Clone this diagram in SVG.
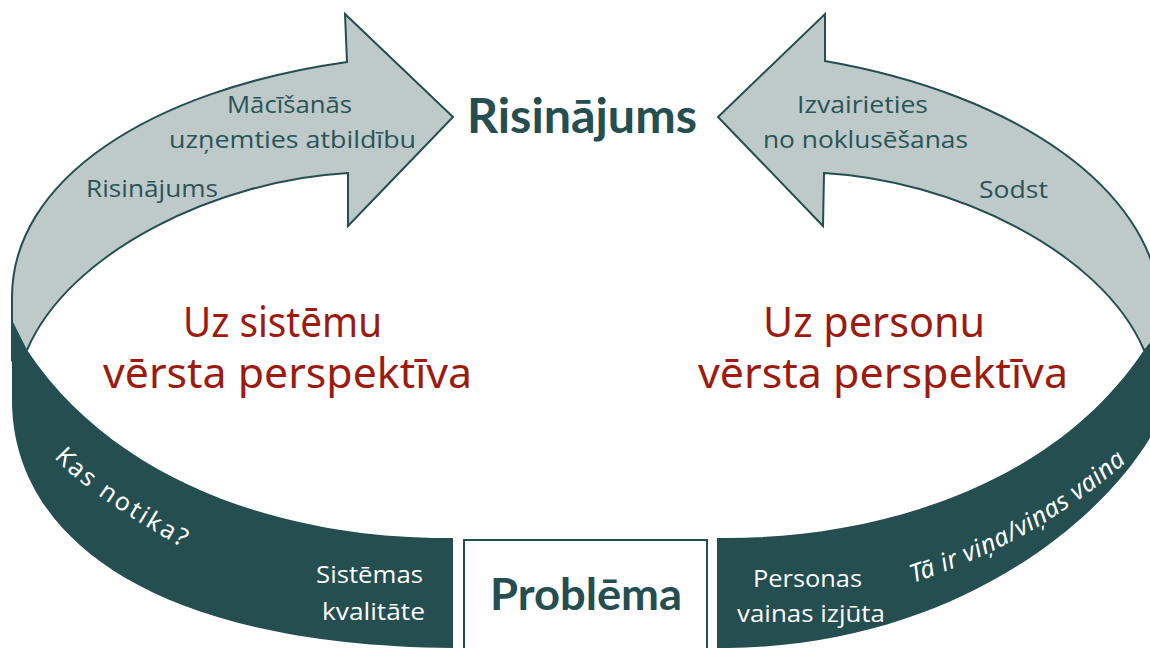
<svg xmlns="http://www.w3.org/2000/svg" width="1150" height="648" viewBox="0 0 1150 648">
<style>
.band{fill:#244e4f}
.arrow{fill:#bec9ca;stroke:#244e4f;stroke-width:2;stroke-linejoin:miter}
.box{fill:#ffffff;stroke:#244e4f;stroke-width:2}
.lbl{font-family:"Open Sans","Noto Sans",sans-serif;font-size:24px;fill:#2a5455}
.wlbl{font-family:"Open Sans","Noto Sans",sans-serif;font-size:24px;fill:#ffffff}
.red{font-family:"Noto Sans","Open Sans",sans-serif;font-size:41px;fill:#9c1a0e}
.title{font-family:Lato,"Open Sans",sans-serif;font-weight:bold;fill:#244e4f}
.curv{font-family:"Noto Sans","Open Sans",sans-serif;font-size:25px;fill:#ffffff}
</style>
<defs>
<path id="pLeft" d="M54,457 C78,486 140,525 205,560"/>
<path id="pRight" d="M913,583 C980,560 1060,526 1146,444"/>
</defs>
<rect width="1150" height="648" fill="#ffffff"/>
<g id="connectors">
<g id="arrow-left">
<path class="arrow" d="M347,62 L345,14 L453,117 L348,226 L348,173 C220,180 70,250 27,350 L12,360 L12,300 C10,180 150,90 347,62 Z"/>
<text class="lbl" x="227" y="113" textLength="125" lengthAdjust="spacingAndGlyphs">Mācīšanās</text>
<text class="lbl" x="169" y="148" textLength="247" lengthAdjust="spacingAndGlyphs">uzņemties atbildību</text>
<text class="lbl" x="86" y="197" textLength="132" lengthAdjust="spacingAndGlyphs">Risinājums</text>
</g>
<g id="arrow-right">
<path class="arrow" d="M825,61 L825,14 L718,117 L823,226 L824,173 C951,180 1101,250 1144,350 L1160,345 L1160,300 C1150,190 1020,95 825,61 Z"/>
<text class="lbl" x="797" y="113" textLength="131" lengthAdjust="spacingAndGlyphs">Izvairieties</text>
<text class="lbl" x="763" y="148" textLength="205" lengthAdjust="spacingAndGlyphs">no noklusēšanas</text>
<text class="lbl" x="979" y="198" textLength="69" lengthAdjust="spacingAndGlyphs">Sodst</text>
</g>
</g>
<g id="band-left">
<path class="band" d="M12,320 L12,400 C12,530 140,645 453,648 L453,538 C300,540 120,490 27,350 Z"/>
<text class="curv" letter-spacing="2.5"><textPath href="#pLeft">Kas notika?</textPath></text>
<text class="wlbl" x="316" y="583" textLength="107" lengthAdjust="spacingAndGlyphs">Sistēmas</text>
<text class="wlbl" x="322" y="620" textLength="103" lengthAdjust="spacingAndGlyphs">kvalitāte</text>
</g>
<g id="band-right">
<path class="band" d="M717,538 C870,540 1051,490 1144,350 L1160,330 L1160,420 C1110,520 950,650 717,648 Z"/>
<text class="wlbl" x="753" y="587" textLength="109" lengthAdjust="spacingAndGlyphs">Personas</text>
<text class="wlbl" x="737" y="622" textLength="148" lengthAdjust="spacingAndGlyphs">vainas izjūta</text>
<text class="curv" font-style="italic" letter-spacing="0.6"><textPath href="#pRight">Tā ir viņa/viņas vaina</textPath></text>
</g>
<g id="node-risinajums">
<text class="title" x="467" y="133" font-size="47" textLength="230" lengthAdjust="spacingAndGlyphs">Risinājums</text>
</g>
<g id="node-system">
<text class="red" x="183" y="337" textLength="199" lengthAdjust="spacingAndGlyphs">Uz sistēmu</text>
<text class="red" x="103" y="388" textLength="369" lengthAdjust="spacingAndGlyphs">vērsta perspektīva</text>
</g>
<g id="node-person">
<text class="red" x="763" y="337" textLength="222" lengthAdjust="spacingAndGlyphs">Uz personu</text>
<text class="red" x="698" y="388" textLength="370" lengthAdjust="spacingAndGlyphs">vērsta perspektīva</text>
</g>
<g id="node-problema">
<rect class="box" x="464" y="540" width="243" height="112"/>
<text class="title" x="490" y="610" font-size="43" textLength="192" lengthAdjust="spacingAndGlyphs">Problēma</text>
</g>
</svg>
